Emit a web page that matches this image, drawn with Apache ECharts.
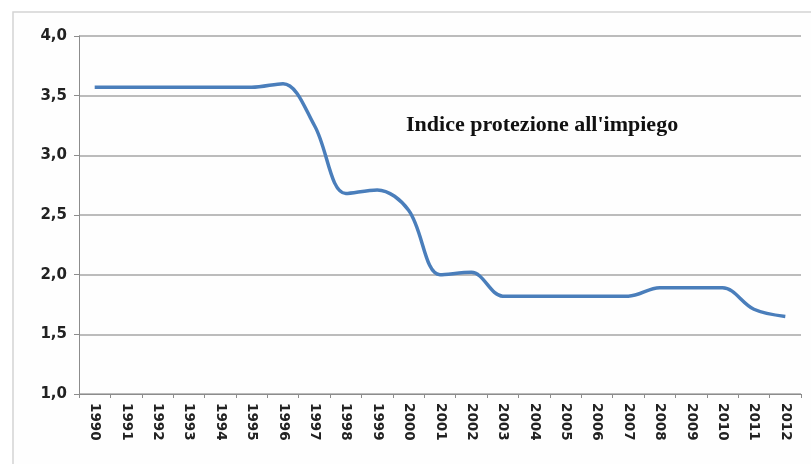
<!DOCTYPE html>
<html>
<head>
<meta charset="utf-8">
<script src="https://cdn.jsdelivr.net/npm/echarts@6/dist/echarts.min.js"></script>
<style>
    html, body { margin: 0; padding: 0; background: #ffffff; }
    #main { width: 811px; height: 464px; }
</style>
</head>
<body>
<div id="main"></div>
<script>
// anni
const years = ['1990', '1991', '1992', '1993', '1994', '1995', '1996', '1997', '1998', '1999', '2000', '2001',
    '2002', '2003', '2004', '2005', '2006', '2007', '2008', '2009', '2010', '2011', '2012']
// indice protezione all'impiego
const indexValues = [3.57, 3.57, 3.57, 3.57, 3.57, 3.57, 3.60, 3.25, 2.68, 2.71, 2.54, 2.00,
    2.02, 1.82, 1.82, 1.82, 1.82, 1.82, 1.89, 1.89, 1.89, 1.71, 1.65]
const seriesLabel = "Indice protezione all'impiego"
const yTicks = [1.0, 1.5, 2.0, 2.5, 3.0, 3.5, 4.0]

const chart = echarts.init(document.getElementById('main'))
const option = {
    backgroundColor: '#ffffff',
    animation: false,
    graphic: [
        {
            // cornice esterna
            type: 'rect',
            shape: { x: 13, y: 12, width: 820, height: 480 },
            style: { fill: '#fefefe', stroke: '#d4d4d4', lineWidth: 1.5 },
            silent: true,
            z: -10
        },
        {
            type: 'text',
            left: 406,
            top: 114,
            style: {
                text: seriesLabel,
                font: 'bold 22px "Liberation Serif", "DejaVu Serif", serif',
                fill: '#111111'
            }
        }
    ],
    grid: {
        left: 79,
        right: 10,
        top: 36,
        bottom: 70
    },
    xAxis: {
        type: 'category',
        data: years,
        boundaryGap: true,
        axisLine: { lineStyle: { color: '#8c8c8c', width: 1 } },
        axisTick: { show: true, alignWithLabel: false, length: 4, lineStyle: { color: '#8c8c8c' } },
        axisLabel: {
            rotate: -90,
            interval: 0,
            margin: 9,
            color: '#222222',
            fontWeight: 'bold',
            fontSize: 13.5,
            fontFamily: '"DejaVu Sans", sans-serif'
        }
    },
    yAxis: {
        type: 'value',
        min: 1,
        max: 4,
        interval: 0.5,
        axisLine: { show: true, lineStyle: { color: '#8c8c8c', width: 1 } },
        axisTick: { show: true, length: 5, lineStyle: { color: '#8c8c8c' } },
        splitLine: { lineStyle: { color: '#a6a6a6', width: 1.5 } },
        axisLabel: {
            margin: 12,
            color: '#222222',
            fontWeight: 'bold',
            fontSize: 15,
            fontFamily: '"DejaVu Sans", sans-serif',
            formatter: v => yTicks.includes(v) ? v.toFixed(1).replace('.', ',') : ''
        }
    },
    series: [
        {
            name: seriesLabel,
            type: 'line',
            data: indexValues,
            smooth: 0.35,
            symbol: 'none',
            lineStyle: { color: '#4a7ebb', width: 3.5 }
        }
    ]
}
chart.setOption(option)
</script>
</body>
</html>
